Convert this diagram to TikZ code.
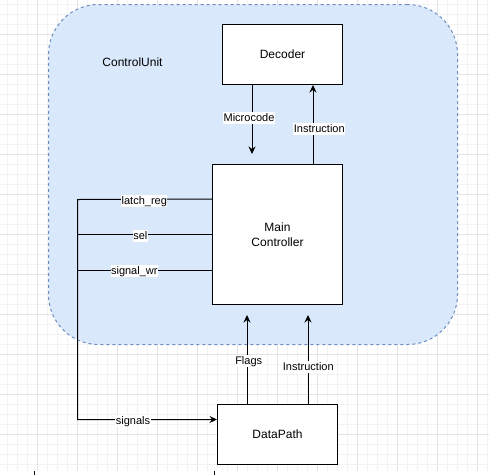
\documentclass[tikz,border=0pt]{standalone}
\usepackage{fontspec}
\setmainfont{Liberation Sans}
\usetikzlibrary{arrows.meta,calc}
\definecolor{cufill}{HTML}{DAE8FC}
\definecolor{culine}{HTML}{6C8EBF}
\definecolor{gridmajor}{HTML}{E4E4E4}
\definecolor{gridminor}{HTML}{F3F3F3}
\begin{document}
\begin{tikzpicture}[x=1pt,y=-1pt,
  container/.style={draw=culine, fill=cufill, line width=1pt, dash pattern=on 3pt off 3pt,
    rounded corners=50pt, inner sep=0pt},
  block/.style={draw=black, line width=1pt, fill=white, inner sep=0pt,
    font=\fontsize{12}{15}\selectfont, align=center},
  conn/.style={draw=black, line width=1pt},
  flow/.style={conn, -{Stealth[length=7.5pt,width=7pt,inset=2.5pt]}},
  lbl/.style={fill=white, inner xsep=0.5pt, inner ysep=0pt, text height=9.5pt,
    text depth=2.5pt, font=\fontsize{11}{13}\selectfont, anchor=base},
]
\useasboundingbox (0,0) rectangle (489,475);
\fill[white] (0,0) rectangle (489,475);

% background grid
\foreach \g in {7.5,17.5,...,487.5}
  \draw[gridminor, line width=1pt] (\g,0) -- (\g,471);
\foreach \g in {4.5,14.5,...,464.5}
  \draw[gridminor, line width=1pt] (0,\g) -- (489,\g);
\foreach \g in {37.5,77.5,...,477.5}
  \draw[gridmajor, line width=1pt] (\g,0) -- (\g,471);
\foreach \g in {34.5,74.5,...,434.5}
  \draw[gridmajor, line width=1pt] (0,\g) -- (489,\g);

% control unit container
\node[container, minimum width=409pt, minimum height=340pt] (cu) at (253,174.5) {};
\node[font=\fontsize{12}{15}\selectfont, anchor=base, inner sep=0pt] (cutitle) at (132.5,66) {ControlUnit};

% blocks
\node[block, minimum width=120pt, minimum height=60pt] (dec) at (282.5,54.5) {Decoder};
\node[block, minimum width=130pt, minimum height=140pt] (mc) at (277.5,234.5) {Main\\Controller};
\node[block, minimum width=120pt, minimum height=60pt] (dp) at (277.5,434.5) {DataPath};

% decoder <-> main controller
\draw[flow, shorten >=10pt] ([xshift=30pt]dec.south west) -- ([xshift=40pt]mc.north west);
\draw[flow] ([xshift=-30pt]mc.north east) -- ([xshift=-30pt]dec.south east);

% datapath -> main controller
\draw[flow, shorten >=10pt] ([xshift=30pt]dp.north west) -- ([xshift=35pt]mc.south west);
\draw[flow, shorten >=10pt] ([xshift=-30pt]dp.north east) -- ([xshift=-35pt]mc.south east);

% control signal bus
\coordinate (latchpt) at ([yshift=-35pt]mc.north west);
\coordinate (wrpt) at ([yshift=35pt]mc.south west);
\coordinate (bustop) at (77.5,199.5);
\draw[flow] (latchpt) -- (bustop) |- ([yshift=15pt]dp.west);
\draw[conn] (mc.west) -- (bustop |- mc.west);
\draw[conn] (wrpt) -- (bustop |- wrpt);

% edge labels
\node[lbl] (lmicro) at (249,121.7) {Microcode};
\node[lbl] (linstr) at (319.3,132.7) {Instruction};
\node[lbl] (lflags) at (248.7,364) {Flags};
\node[lbl] (linstr2) at (308.3,370) {Instruction};
\node[lbl] (llatch) at (144.3,204.2) {latch\_reg};
\node[lbl] (lsel) at (140.3,239.2) {sel};
\node[lbl] (lwr) at (134.3,274.2) {signal\_wr};
\node[lbl] (lsig) at (133,424.5) {signals};

% strip along the lower edge
\fill[white] (0,471) rectangle (489,475);
\draw[black, line width=1pt] (34.5,471) -- (34.5,475);
\draw[black, line width=1pt] (214.5,471) -- (214.5,475);
\end{tikzpicture}
\end{document}
